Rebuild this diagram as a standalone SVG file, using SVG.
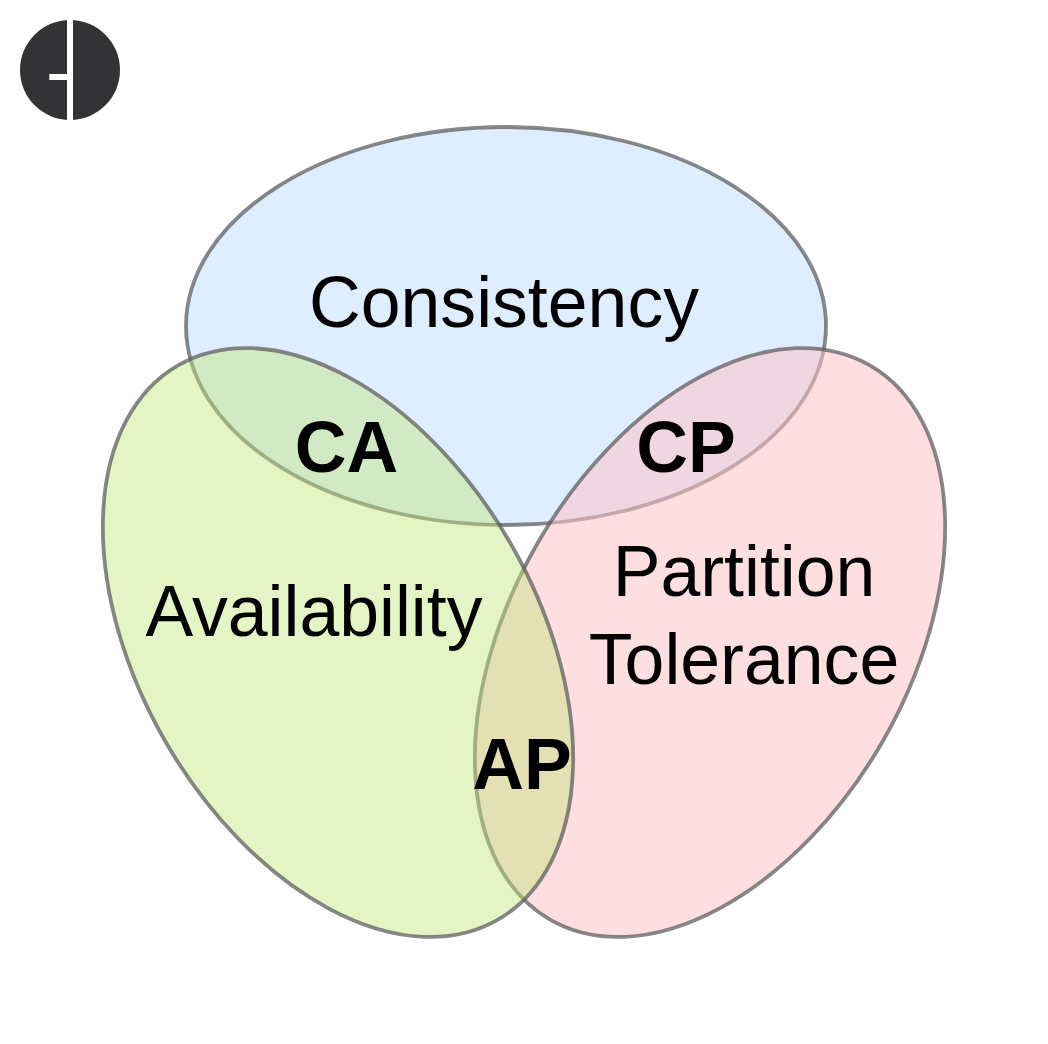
<svg xmlns="http://www.w3.org/2000/svg" width="1048" height="1044" viewBox="0 0 1048 1044">
<style>
.e{stroke:#5a5a5a;stroke-opacity:.72;stroke-width:3.800}
.t{font-family:"Liberation Sans",Arial,sans-serif;font-size:71.600px;fill:#000;text-anchor:middle}
.b{font-weight:700}
.h{fill:#fff;fill-opacity:.04}
</style>
<rect width="1048" height="1044" fill="#fff"/>
<g id="logo"><circle cx="70" cy="70" r="50" fill="#333335"/><path d="M67 19h6v102h-6zM49.300 74h18v6h-18z" fill="#fff"/></g>
<g id="consistency"><ellipse class="e" cx="506" cy="326" rx="320" ry="199" fill="#bfdcff" fill-opacity=".52"/></g>
<g id="partition"><ellipse class="e" cx="710" cy="642.500" rx="199" ry="320" transform="rotate(30 710 642.500)" fill="#fdc3c6" fill-opacity=".55"/></g>
<g id="availability"><ellipse class="e" cx="338" cy="642.500" rx="199" ry="320" transform="rotate(-30 338 642.500)" fill="#c2e679" fill-opacity=".44"/></g>
<g id="labels">
<rect class="h" x="613" y="530" width="263" height="81"/>
<rect class="h" x="588" y="617" width="312" height="83"/>
<text class="t" x="504" y="327">Consistency</text>
<text class="t" x="314" y="636">Availability</text>
<text class="t" x="744" y="596">Partition</text>
<text class="t" x="744" y="684">Tolerance</text>
<text class="t b" x="346.500" y="472">CA</text>
<text class="t b" x="686" y="472">CP</text>
<text class="t b" x="522" y="789">AP</text>
</g>
</svg>
